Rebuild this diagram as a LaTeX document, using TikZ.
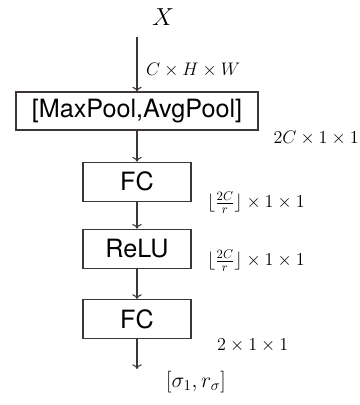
\RequirePackage{fix-cm}
\documentclass[tikz,border=0pt]{standalone}
\usepackage{amsmath}
\usepackage{fontspec}
\setsansfont{TeX Gyre Heros}
\usetikzlibrary{arrows.meta}
\definecolor{edgegray}{RGB}{60, 55, 52}

\begin{document}
\begin{tikzpicture}[
  layer/.style={draw=edgegray, line width=0.9pt, minimum width=3.24cm, minimum height=1.17cm, inner sep=0pt, font=\sffamily\fontsize{21.5}{25}\selectfont},
  flow/.style={draw=edgegray, line width=0.9pt, -{To[length=4pt, width=8pt]}},
  dims/.style={anchor=west, inner sep=0pt, font=\fontsize{15.5}{18}\selectfont}
]
  \useasboundingbox (0,0) rectangle (10.8,-12.15);

  % Input
  \node[font=\fontsize{21}{24}\selectfont] (x) at (4.89,-0.51) {$X$};
  \coordinate (xin) at (4.11,-1.11);

  % Pooling
  \node[layer, minimum width=7.26cm, minimum height=1.14cm] (pool) at (4.11,-3.33) {[MaxPool,AvgPool]};

  % Squeeze / excite
  \node[layer] (fc1) at (4.11,-5.45) {FC};
  \node[layer] (relu) at (4.11,-7.46) {ReLU};
  \node[layer] (fc2) at (4.11,-9.57) {FC};
  \coordinate (out) at (4.11,-11.07);

  % Flow
  \draw[flow] (xin) -- (pool);
  \draw[flow] (pool) -- (fc1);
  \draw[flow] (fc1) -- (relu);
  \draw[flow] (relu) -- (fc2);
  \draw[flow] (fc2) -- (out);

  % Tensor shapes
  \node[dims] (dimin) at (4.38,-2.1) {$C \times H \times W$};
  \node[dims] (dimpool) at (8.2,-4.14) {$2C \times 1 \times 1$};
  \node[dims] (dimfc) at (6.21,-6.08) {$\lfloor \frac{2C}{r} \rfloor \times 1 \times 1$};
  \node[dims] (dimrelu) at (6.21,-7.82) {$\lfloor \frac{2C}{r} \rfloor \times 1 \times 1$};
  \node[dims] (dimfc2) at (6.51,-10.35) {$2 \times 1 \times 1$};

  % Output
  \node[font=\fontsize{18.5}{22}\selectfont] (y) at (5.88,-11.46) {$[\sigma_1, r_\sigma]$};
\end{tikzpicture}
\end{document}
